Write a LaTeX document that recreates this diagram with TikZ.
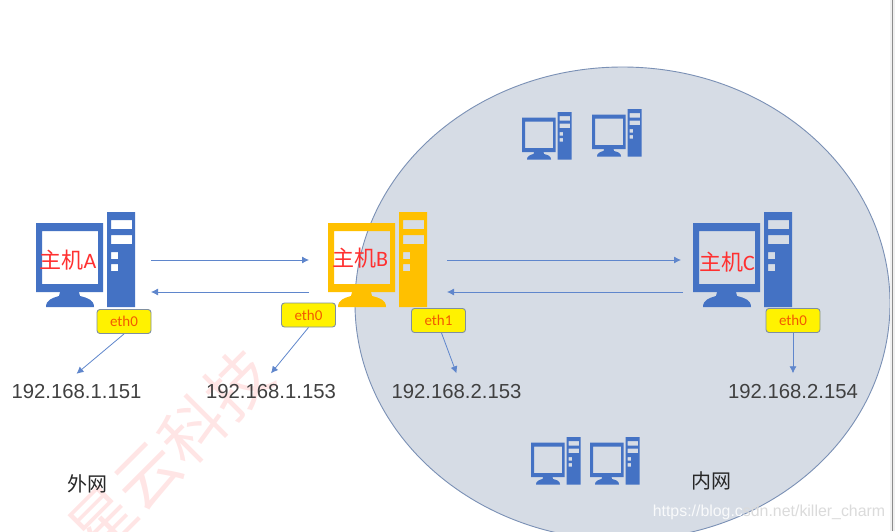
\documentclass[tikz,border=0pt]{standalone}
\usepackage{fontspec}
\setmainfont{Liberation Sans}
\newfontfamily\cjk{Noto Sans CJK SC}
\newfontfamily\carl{Carlito}
\usetikzlibrary{arrows.meta}
\definecolor{pcblue}{HTML}{4472C4}
\definecolor{pcorange}{HTML}{FFC000}
\definecolor{lanfill}{HTML}{D6DCE5}
\definecolor{lanline}{HTML}{7A90B5}
\definecolor{ethline}{HTML}{7F8FA0}
\definecolor{ethtext}{HTML}{F25A00}
\definecolor{iptext}{HTML}{404040}
\definecolor{linkblue}{HTML}{5F86CC}
\definecolor{hostred}{HTML}{FF3030}
\tikzset{
	computer/.pic={
		\fill[pic actions, even odd rule] (0,11) rectangle (67,80) (6,19) rectangle (62,72);
		\fill[pic actions] (24,80) -- (43,80) -- (44,84) .. controls (52,86) and (58,88) .. (58,95)
			-- (10,95) .. controls (10,88) and (16,86) .. (23,84) -- cycle;
		\fill[pic actions, even odd rule] (71,0) rectangle (99,95)
			(75,8) rectangle (96,17) (75,23) rectangle (96,32)
			(75,40) rectangle (82,47) (75,52) rectangle (82,59);
	},
	hostlabel/.style={text=hostred, font=\fontsize{22}{24}\selectfont},
	ethbox/.style={draw=ethline, line width=0.9pt, fill=yellow, rounded corners=3pt,
		minimum width=54, minimum height=24, inner sep=0pt, text=ethtext, font=\carl\fontsize{15}{17}\selectfont},
	iplabel/.style={text=iptext, inner sep=0pt, minimum height=36, font=\fontsize{20.3}{22}\selectfont},
	netlabel/.style={text=iptext!60!black, font=\cjk\fontsize{20}{22}\selectfont},
	link/.style={draw=linkblue, line width=0.8pt, -{Latex[length=7,width=7]}}
}
\begin{document}
\begin{tikzpicture}[x=1pt, y=-1pt]
\useasboundingbox (0,0) rectangle (895,531);
\fill[white] (0,0) rectangle (895,531);

% inner network
\begin{scope}
\clip (0,0) rectangle (895,531);
\draw[draw=lanline, fill=lanfill, line width=0.9pt] (622.5,303.5) ellipse (267.5 and 236.5);
\node (mark) [rotate=45, text=red, opacity=0.1, inner sep=0pt, font=\cjk\fontsize{64}{66}\selectfont] at (170,452) {星云科技};
\end{scope}

% computers
\pic[fill=pcblue] at (36,212) {computer};
\pic[fill=pcorange] at (328,212) {computer};
\pic[fill=pcblue] at (693,212) {computer};
\pic[fill=pcblue, scale=0.5] at (522,112) {computer};
\pic[fill=pcblue, scale=0.5] at (592,109) {computer};
\pic[fill=pcblue, scale=0.5] at (531,437) {computer};
\pic[fill=pcblue, scale=0.5] at (590,437) {computer};

\node (hostA) [hostlabel] at (68,260) {{\cjk 主机}{\carl A}};
\node (hostB) [hostlabel] at (360,258) {{\cjk 主机}{\carl B}};
\node (hostC) [hostlabel] at (727,262) {{\cjk 主机}{\carl C}};

% interfaces
\node (ethA) [ethbox] at (124,321.5) {eth0};
\node (ethB) [ethbox] at (308.5,315) {eth0};
\node (ethBin) [ethbox] at (438.5,320.5) {eth1};
\node (ethC) [ethbox] at (793,320.5) {eth0};

\node (ipA) [iplabel] at (76.5,392) {192.168.1.151};
\node (ipB) [iplabel] at (271,391.5) {192.168.1.153};
\node (ipBin) [iplabel] at (456.5,391.5) {192.168.2.153};
\node (ipC) [iplabel] at (793,391.5) {192.168.2.154};

\draw[link] (ethA.south) -- (ipA.north);
\draw[link] (ethB.south) -- (ipB.north);
\draw[link] ([xshift=3]ethBin.south) -- (ipBin.north);
\draw[link] (ethC.south) -- (ipC.north);

% traffic between the hosts
\coordinate (aout) at (151,260);
\coordinate (ain) at (151,292);
\coordinate (bleft) at (309,260);
\coordinate (bleftout) at (309,292);
\coordinate (bout) at (447,260);
\coordinate (bin) at (447,292);
\coordinate (cin) at (681,260);
\coordinate (cout) at (683,292);
\draw[link] (aout) -- (bleft);
\draw[link] (bleftout) -- (ain);
\draw[link] (bout) -- (cin);
\draw[link] (cout) -- (bin);

\node (outer) [netlabel] at (87,484) {外网};
\node (inner) [netlabel] at (711,481) {内网};
\node (url) [inner sep=0pt, font=\fontsize{15.9}{18}\selectfont] at (769,512) {{\color{white!85!lanfill}https://blog.c}{\color{black!14}sdn.net/killer\_charm}};

% window edge
\fill[black!6] (890,0) rectangle (895,531);
\draw[black!45, line width=0.8pt] (892.5,0) -- (892.5,531);
\end{tikzpicture}
\end{document}
